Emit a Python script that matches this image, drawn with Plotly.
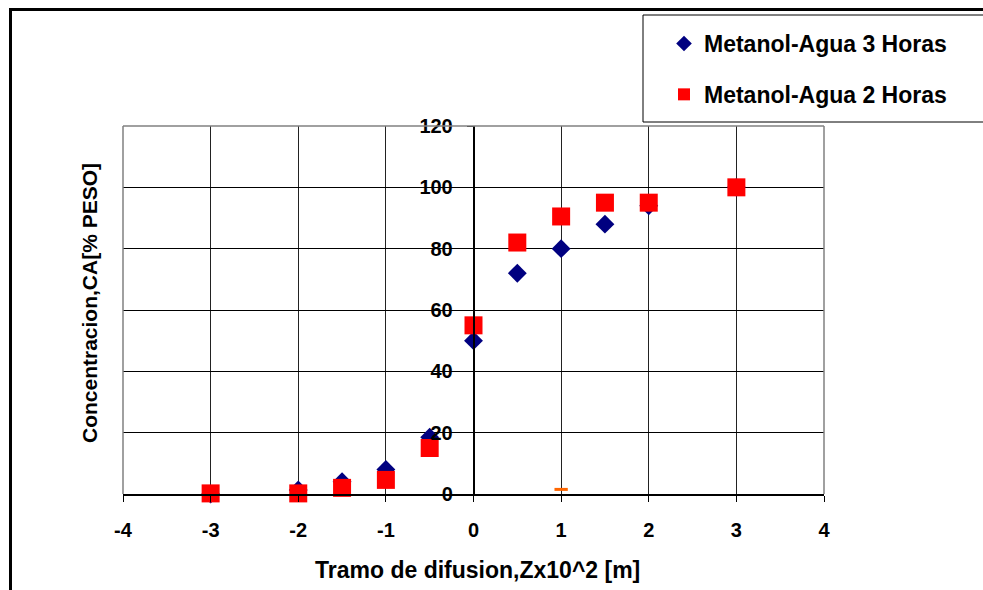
import plotly.graph_objects as go

# ---- data ----
x_vals = [-3, -2, -1.5, -1, -0.5, 0, 0.5, 1, 1.5, 2, 3]
conc_3h = [0, 1.3, 4, 8, 18.5, 50, 72, 80, 88, 94, 100]
conc_2h = [0.2, 0.2, 2, 4.6, 15, 55, 82, 90.5, 95, 95, 100]
extra_x = [1]
extra_y = [1.5]
x_ticks = [-4, -3, -2, -1, 0, 1, 2, 3, 4]
y_ticks = [0, 20, 40, 60, 80, 100, 120]
name_3h = "Metanol-Agua 3 Horas"
name_2h = "Metanol-Agua 2 Horas"
x_title = "Tramo de difusion,Zx10^2 [m]"
y_title = "Concentracion,CA[% PESO]"

W, H = 983, 590
L, R, T, B = 123, 983 - 824, 126, 590 - 494
PW, PH = W - L - R, H - T - B


def px(x):
    return (x - L) / PW


def py(y):
    return (H - B - y) / PH


FONT = "Liberation Sans, Arial, sans-serif"

fig = go.Figure()
fig.add_trace(go.Scatter(
    x=x_vals, y=conc_3h, mode="markers", name=name_3h, legendgroup="a",
    marker=dict(symbol="diamond", size=14.5, color="#000080", line=dict(width=0)),
    cliponaxis=False))
fig.add_trace(go.Scatter(
    x=x_vals, y=conc_2h, mode="markers", name=name_2h, legendgroup="b",
    marker=dict(symbol="square", size=18, color="#FF0000", line=dict(width=0)),
    cliponaxis=False))
fig.add_trace(go.Scatter(
    x=extra_x, y=extra_y, mode="markers", showlegend=False,
    marker=dict(symbol="line-ew", size=9.5, color="#FF6600",
                line=dict(width=3, color="#FF6600")),
    cliponaxis=False))

shapes = [
    # outer frame
    dict(type="rect", xref="paper", yref="paper", x0=px(10.5), x1=px(1000),
         y0=py(610), y1=py(9.5), line=dict(color="black", width=3), layer="above"),
    # legend box
    dict(type="rect", xref="paper", yref="paper", x0=px(643), x1=px(1000),
         y0=py(122), y1=py(15), line=dict(color="black", width=1), layer="below",
         fillcolor="white"),
    # plot area border (gray) left, top, right
    dict(type="line", xref="paper", yref="paper", x0=0, x1=0, y0=0, y1=1,
         line=dict(color="#808080", width=1.5), layer="above"),
    dict(type="line", xref="paper", yref="paper", x0=0, x1=1, y0=1, y1=1,
         line=dict(color="#808080", width=1.5), layer="above"),
    dict(type="line", xref="paper", yref="paper", x0=1, x1=1, y0=0, y1=1,
         line=dict(color="#808080", width=1.5), layer="above"),
]

annotations = [
    dict(text=y_title, xref="paper", yref="paper", x=px(89), y=py(303),
         showarrow=False, textangle=-90,
         font=dict(family=FONT, size=21, color="black", weight="bold"),
         xanchor="center", yanchor="middle"),
    dict(text=x_title, xref="paper", yref="paper", x=px(477), y=py(570),
         showarrow=False, font=dict(family=FONT, size=23, color="black", weight="bold"),
         xanchor="center", yanchor="middle"),
]

fig.update_layout(
    width=W, height=H,
    margin=dict(l=L, r=R, t=T, b=B),
    paper_bgcolor="white", plot_bgcolor="white",
    font=dict(family=FONT, color="black"),
    shapes=shapes, annotations=annotations,
    legend=dict(x=px(664), y=py(22), xanchor="left", yanchor="top",
                bgcolor="rgba(0,0,0,0)", borderwidth=0,
                traceorder="grouped", tracegroupgap=18, itemsizing="constant",
                font=dict(family=FONT, size=23, color="black", weight="bold")),
    xaxis=dict(range=[-4, 4], tickvals=x_ticks, ticktext=[str(t) for t in x_ticks],
               showgrid=True, gridcolor="#222", gridwidth=1, zeroline=False,
               showline=True, linecolor="black", linewidth=1.5,
               ticks="outside", ticklen=6, tickcolor="black",
               tickfont=dict(family=FONT, size=20, color="black", weight="bold"),
               ticklabelstandoff=11),
    yaxis=dict(range=[0, 120], tickvals=y_ticks, ticktext=[str(t) for t in y_ticks],
               showgrid=True, gridcolor="black", gridwidth=1, zeroline=False,
               anchor="free", position=0.5,
               showline=True, linecolor="black", linewidth=1.5,
               ticks="outside", ticklen=6, tickcolor="black",
               tickfont=dict(family=FONT, size=20, color="black", weight="bold"),
               ticklabelstandoff=10),
)

fig.write_html("out.html", config={"displayModeBar": False},
               post_script="document.body.style.margin='0';document.body.style.overflow='hidden';")
